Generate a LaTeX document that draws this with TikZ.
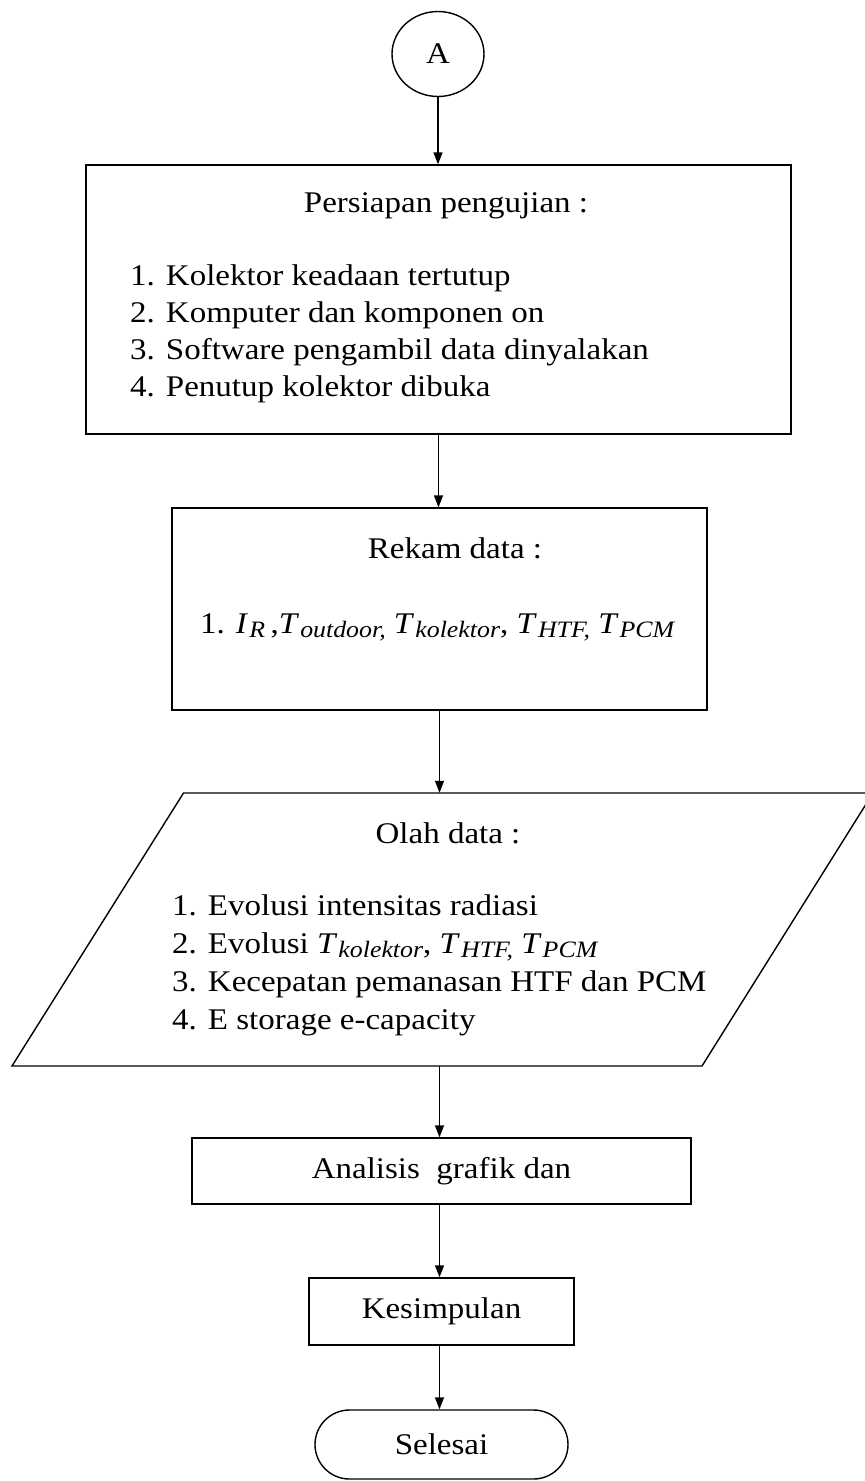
\documentclass[tikz,border=0pt]{standalone}
\usepackage{fontspec}
\usepackage{graphicx}
\setmainfont{Liberation Serif}
\usetikzlibrary{arrows.meta,shapes.geometric,shapes.misc}
\newcommand{\wide}[1]{\scalebox{1.1}[1]{#1}}
\newcommand{\lst}[1]{\wide{\begin{tabular}{@{}l@{}}#1\end{tabular}}}
\newcommand{\subsc}[1]{\raisebox{-0.3ex}{\fontsize{23.5}{24}\selectfont\textit{#1}}}
\newcommand{\mT}[1]{\textit{T}\kern1pt\subsc{#1}}
\begin{document}
\begin{tikzpicture}[x=1pt,y=-1pt,
  every node/.style={font=\fontsize{30}{37}\selectfont, inner sep=0pt},
  shp/.style={draw, line width=1.4pt},
  txt/.style={inner sep=0pt},
  arr/.style={line width=1.4pt, -{Triangle[length=12pt,width=9pt]}}]
\useasboundingbox (0,0) rectangle (865,1481);

\node[shp, ellipse, minimum width=92pt, minimum height=85pt] (A) at (438,54) {\wide{A}};

\node[shp, rectangle, minimum width=705pt, minimum height=269pt] (prep) at (438.5,299.5) {};
\node[txt] (prept) at (446,206) {\wide{Persiapan pengujian :}};
\node[txt, anchor=west] (prepl) at (130,334) {\lst{1. Kolektor keadaan tertutup\\2. Komputer dan komponen on\\3. Software pengambil data dinyalakan\\4. Penutup kolektor dibuka}};

\node[shp, rectangle, minimum width=535pt, minimum height=202pt] (rekam) at (439.5,609) {};
\node[txt] (rekamt) at (455,548) {\wide{Rekam data :}};
\node[txt, anchor=west] (rekaml) at (200,627) {\wide{1. \textit{I}\kern1pt\subsc{R}\,,\mT{outdoor,} \mT{kolektor}, \mT{HTF,} \mT{PCM}}};

\node[minimum width=520pt, minimum height=273pt] (olah) at (442,929.5) {};
\draw[line width=1.4pt, line join=miter] (12,1066) -- (183.5,793) -- (873,793) -- (702,1066) -- cycle;
\node[txt] (olaht) at (448,833) {\wide{Olah data :}};
\node[txt, anchor=west] (olahl) at (172,965) {\lst{1. Evolusi intensitas radiasi\\[1pt]2. Evolusi \mT{kolektor}, \mT{HTF,} \mT{PCM}\\[1pt]3. Kecepatan pemanasan HTF dan PCM\\[1pt]4. E storage e-capacity}};

\node[shp, rectangle, minimum width=499pt, minimum height=66pt] (anal) at (441.5,1171) {\wide{Analisis\ \ grafik dan}};
\node[shp, rectangle, minimum width=265pt, minimum height=67pt] (kes) at (441.5,1311.5) {\wide{Kesimpulan}};
\node[shp, rounded rectangle, minimum width=253pt, minimum height=69pt] (sel) at (441.5,1444.5) {\wide{Selesai}};

\draw[arr] (A.south) -- (A.south |- prep.north);
\draw[arr] (prep.south) -- (prep.south |- rekam.north);
\draw[arr] (rekam.south) -- (rekam.south |- olah.north);
\draw[arr] (olah.south -| rekam.south) -- (rekam.south |- anal.north);
\draw[arr] (anal.south -| rekam.south) -- (rekam.south |- kes.north);
\draw[arr] (kes.south -| rekam.south) -- (rekam.south |- sel.north);
\end{tikzpicture}
\end{document}
